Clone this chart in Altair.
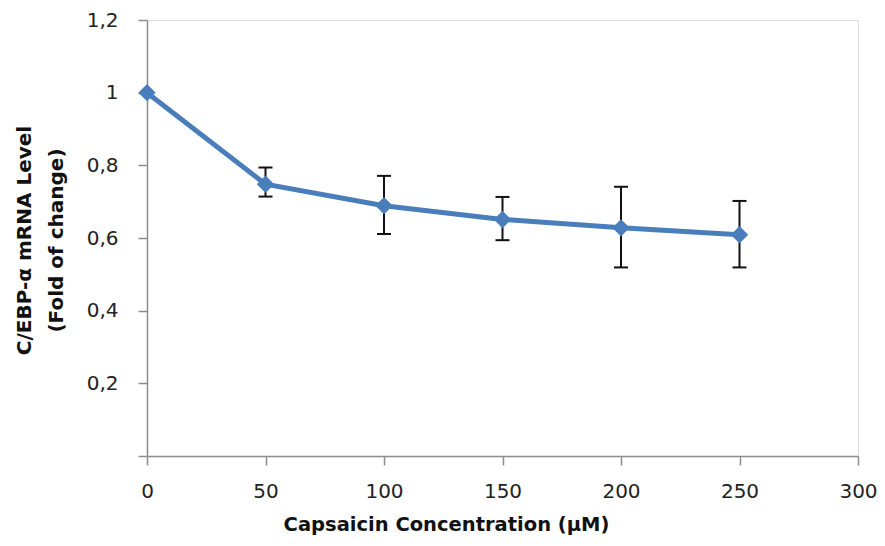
import altair as alt
import pandas as pd

conc = [0, 50, 100, 150, 200, 250]
level = [1.0, 0.748, 0.689, 0.651, 0.628, 0.609]
err_low = [1.0, 0.714, 0.611, 0.594, 0.519, 0.519]
err_high = [1.0, 0.794, 0.771, 0.713, 0.741, 0.702]
x_ticks = [0, 50, 100, 150, 200, 250, 300]
y_ticks = [0, 0.2, 0.4, 0.6, 0.8, 1.0, 1.2]

df = pd.DataFrame({"conc": conc, "level": level, "lo": err_low, "hi": err_high})
df_err = df[df["conc"] > 0]

FONT = "DejaVu Sans"
BLUE = "#4a7ebb"

x_enc = alt.X(
    "conc:Q",
    scale=alt.Scale(domain=[0, 300], nice=False),
    axis=alt.Axis(
        values=x_ticks,
        title="Capsaicin Concentration (µM)",
        grid=False,
        domainColor="#8c8c8c",
        domainWidth=1.5,
        tickColor="#8c8c8c",
        tickWidth=1.5,
        tickSize=9,
        labelFont=FONT,
        labelFontSize=20,
        labelColor="#222222",
        labelPadding=16,
        labelFlush=False,
        titleFont=FONT,
        titleFontSize=19.5,
        titleFontWeight="bold",
        titleColor="#111111",
        titleX=299,
        titleY=68,
        titleBaseline="middle",
        titleAlign="center",
    ),
)
y_enc = alt.Y(
    "level:Q",
    scale=alt.Scale(domain=[0, 1.2], nice=False),
    axis=alt.Axis(
        values=y_ticks,
        title=["C/EBP-α mRNA Level", "(Fold of change)"],
        grid=False,
        domainColor="#8c8c8c",
        domainWidth=1.5,
        tickColor="#8c8c8c",
        tickWidth=1.5,
        tickSize=9,
        labelFont=FONT,
        labelFontSize=20,
        labelColor="#222222",
        labelPadding=20,
        labelFlush=False,
        labelExpr="datum.value == 0 ? '' : replace(format(datum.value, '~g'), '.', ',')",
        titleFont=FONT,
        titleFontSize=20,
        titleFontWeight="bold",
        titleColor="#111111",
        titleAngle=-90,
        titleX=-123,
        titleY=220,
        titleAlign="center",
        titleBaseline="middle",
        titleLineHeight=32,
    ),
)

base = alt.Chart(df)

err_v = alt.Chart(df_err).mark_rule(color="#111111", strokeWidth=2).encode(
    x=alt.X("conc:Q"), y=alt.Y("lo:Q"), y2="hi:Q"
)
cap_hi = alt.Chart(df_err).mark_rule(
    color="#111111", strokeWidth=2, xOffset=-7, x2Offset=7
).encode(x="conc:Q", x2="conc:Q", y="hi:Q")
cap_lo = alt.Chart(df_err).mark_rule(
    color="#111111", strokeWidth=2, xOffset=-7, x2Offset=7
).encode(x="conc:Q", x2="conc:Q", y="lo:Q")

line = base.mark_line(color=BLUE, strokeWidth=5).encode(x=x_enc, y=y_enc)
pts = base.mark_point(
    shape="diamond", filled=True, color=BLUE, size=300, opacity=1
).encode(x="conc:Q", y="level:Q")

chart = (
    alt.layer(err_v, cap_hi, cap_lo, line, pts)
    .properties(
        width=711,
        height=436,
        autosize=alt.AutoSizeParams(type="none"),
        padding={"left": 139, "top": 12, "right": 19, "bottom": 82},
    )
    .configure_view(stroke=None)
    .configure(background="white")
)

chart.save("out.html", embed_options={"renderer": "svg", "actions": False})
